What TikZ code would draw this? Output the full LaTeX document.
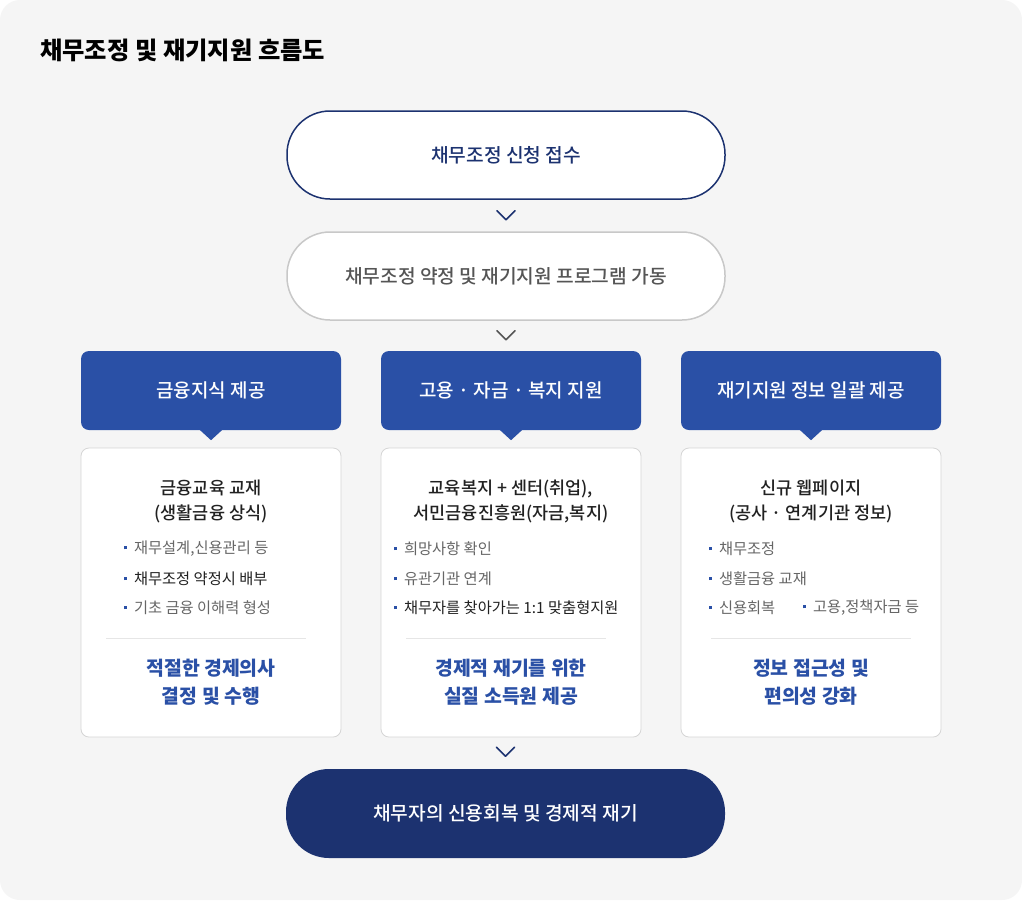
\documentclass[tikz,border=0pt]{standalone}
\usepackage{fontspec}
\setmainfont{Noto Sans CJK KR}
\newfontfamily\medfont{Noto Sans CJK KR Medium}
\usetikzlibrary{positioning}
\definecolor{navy}{HTML}{1C3270}
\definecolor{hblue}{HTML}{2A50A6}
\definecolor{bgray}{HTML}{F5F5F5}
\definecolor{pgray}{HTML}{C8C8C8}
\definecolor{lgray}{HTML}{D5D5D5}
\definecolor{tgray}{HTML}{666666}
\definecolor{dgray}{HTML}{555555}
\tikzstyle{pill} = [rectangle, rounded corners=43pt, minimum width=438pt, minimum height=88pt, fill=white, line width=1.5pt, font=\medfont\fontsize{19.2}{22}\selectfont]
\tikzstyle{head} = [rectangle, rounded corners=8pt, minimum width=260pt, minimum height=79pt, fill=hblue, text=white, font=\medfont\fontsize{19}{22}\selectfont]
\tikzstyle{card} = [rectangle, rounded corners=8pt, minimum width=260pt, minimum height=289pt, fill=white, draw=lgray, line width=0.8pt]
\tikzstyle{cardtitle} = [align=center, inner sep=0pt, text=black!87, font=\medfont\fontsize{17.5}{25}\selectfont]
\tikzstyle{item} = [anchor=west, inner sep=0pt, text=tgray, font=\fontsize{15.3}{17}\selectfont]
\tikzstyle{result} = [align=center, inner sep=0pt, text=hblue, font=\bfseries\fontsize{19.4}{28}\selectfont]
\tikzstyle{chev} = [line width=1.6pt, line cap=round, line join=round]
\newcommand{\itemdot}{\raisebox{0.3em}{\textcolor{hblue}{\rule{2.8pt}{2.8pt}}}\hspace{7pt}}

\begin{document}
\begin{tikzpicture}[x=1pt,y=-1pt]
 % background
 \fill[white] (0,0) rectangle (1022,900);
 \fill[bgray, rounded corners=20pt] (0,0) rectangle (1022,900);
 \node (title) [anchor=west, inner sep=0pt, font=\bfseries\fontsize{24.3}{28}\selectfont] at (40,50) {채무조정 및 재기지원 흐름도};

 % steps
 \node (apply) [pill, draw=navy, text=navy] at (506,155) {채무조정 신청 접수};
 \node (agree) [pill, draw=pgray, text=dgray] at (506,276) {채무조정 약정 및 재기지원 프로그램 가동};
 \draw[chev, navy] (apply.south) ++(-9,11) -- ++(9,9) -- ++(9,-9);
 \draw[chev, dgray] (agree.south) ++(-9,10) -- ++(9,9) -- ++(9,-9);

 % headers
 \node (h1) [head] at (211,390.5) {금융지식 제공};
 \node (h2) [head] at (511,390.5) {고용 · 자금 · 복지 지원};
 \node (h3) [head] at (811,390.5) {재기지원 정보 일괄 제공};
 \foreach \h in {h1,h2,h3}
  \fill[hblue] ([xshift=-12pt,yshift=1pt]\h.south) -- ([xshift=12pt,yshift=1pt]\h.south) -- ([yshift=-10pt]\h.south) -- cycle;

 % cards
 \node (c1) [card] at (211,592.5) {};
 \node (c2) [card] at (511,592.5) {};
 \node (c3) [card] at (811,592.5) {};

 \node (t1) [cardtitle] at (211,501) {금융교육 교재\\(생활금융 상식)};
 \node (t2) [cardtitle] at (511,501) {교육복지 + 센터(취업),\\서민금융진흥원(자금,복지)};
 \node (t3) [cardtitle] at (811,501) {신규 웹페이지\\(공사 · 연계기관 정보)};

 \node (i11) [item] at (124,549) {\itemdot 재무설계,신용관리 등};
 \node (i12) [item, text=black!87] at (124,579) {\itemdot 채무조정 약정시 배부};
 \node (i13) [item] at (124,608) {\itemdot 기초 금융 이해력 형성};
 \node (i21) [item] at (394,549) {\itemdot 희망사항 확인};
 \node (i22) [item] at (394,579) {\itemdot 유관기관 연계};
 \node (i23) [item, text=black!87] at (394,608) {\itemdot 채무자를 찾아가는 1:1 맞춤형지원};
 \node (i31) [item] at (709,549) {\itemdot 채무조정};
 \node (i32) [item] at (709,579) {\itemdot 생활금융 교재};
 \node (i33) [item] at (709,608) {\itemdot 신용회복};
 \node (i34) [item] at (803,608) {\itemdot 고용,정책자금 등};

 \draw[lgray!60, line width=0.8pt] (106,638) -- (306,638);
 \draw[lgray!60, line width=0.8pt] (406,638) -- (606,638);
 \draw[lgray!60, line width=0.8pt] (711,638) -- (911,638);

 \node (r1) [result] at (211,682) {적절한 경제의사\\결정 및 수행};
 \node (r2) [result] at (511,682) {경제적 재기를 위한\\실질 소득원 제공};
 \node (r3) [result] at (811,682) {정보 접근성 및\\편의성 강화};

 % goal
 \node (goal) [pill, fill=navy, text=white, minimum width=439pt, minimum height=89pt] at (505.5,813.5) {채무자의 신용회복 및 경제적 재기};
 \draw[chev, navy] (goal.north) ++(-9,-21) -- ++(9,9) -- ++(9,-9);
\end{tikzpicture}
\end{document}
